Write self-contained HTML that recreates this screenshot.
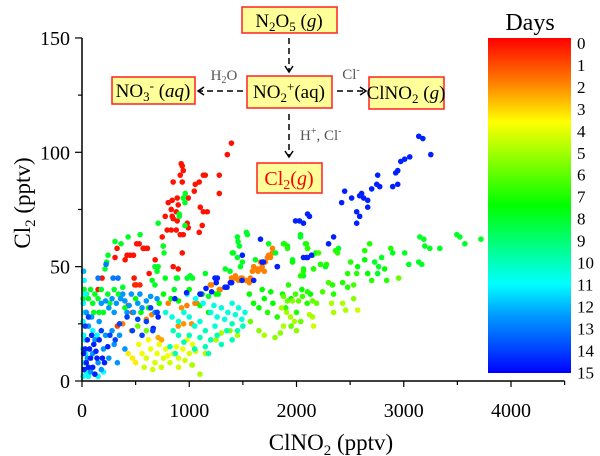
<!DOCTYPE html>
<html><head><meta charset="utf-8"><style>
html,body{margin:0;padding:0;background:#fff;}
svg{display:block;font-family:"Liberation Serif",serif;}
</style></head><body>
<svg id="chart" width="600" height="456" viewBox="0 0 600 456" xmlns="http://www.w3.org/2000/svg">
<defs>
<linearGradient id="cbgrad" x1="0" y1="0" x2="0" y2="1">
<stop offset="0" stop-color="#ff0000"/><stop offset="0.133" stop-color="#ff7f00"/><stop offset="0.25" stop-color="#ffff00"/><stop offset="0.5" stop-color="#00ff00"/><stop offset="0.733" stop-color="#00ffff"/><stop offset="0.833" stop-color="#0096ff"/><stop offset="0.933" stop-color="#0040ff"/><stop offset="1" stop-color="#0000ff"/>
</linearGradient>
</defs>
<g id="points"></g>
<g id="axes"></g>
<rect x="488" y="38" width="83" height="335" fill="url(#cbgrad)"/>
<text x="530" y="30" font-size="24" text-anchor="middle">Days</text>
<g id="cblabels"></g>
<text transform="translate(30,203) rotate(-90)" font-size="23" text-anchor="middle">Cl<tspan font-size="15" dy="5">2</tspan><tspan dy="-5"> (pptv)</tspan></text>
<text x="331" y="450" font-size="23" text-anchor="middle">ClNO<tspan font-size="15" dy="5">2</tspan><tspan dy="-5"> (pptv)</tspan></text>
<g font-size="19">
<rect x="242" y="7" width="95" height="26" fill="#ffff99" stroke="#ff2020" stroke-width="1.5"/>
<text x="289" y="27" text-anchor="middle">N<tspan font-size="13" dy="4">2</tspan><tspan dy="-4">O</tspan><tspan font-size="13" dy="4">5</tspan><tspan dy="-4"> (</tspan><tspan font-style="italic">g</tspan>)</text>
<line x1="289" y1="38" x2="289" y2="71" stroke="#000" stroke-width="1.5" stroke-dasharray="6,4"/>
<polyline points="285,66 289,72 293,66" fill="none" stroke="#000" stroke-width="1.5"/>
<rect x="247" y="76" width="85" height="32" fill="#ffff99" stroke="#ff2020" stroke-width="1.5"/>
<text x="289" y="98" text-anchor="middle">NO<tspan font-size="13" dy="4">2</tspan><tspan font-size="13" dy="-11">+</tspan><tspan dy="7">(aq)</tspan></text>
<rect x="112" y="77" width="83" height="27" fill="#ffff99" stroke="#ff2020" stroke-width="1.5"/>
<text x="153" y="97" text-anchor="middle">NO<tspan font-size="13" dy="4">3</tspan><tspan font-size="13" dy="-11">-</tspan><tspan dy="7"> (</tspan><tspan font-style="italic">aq</tspan>)</text>
<rect x="369" y="77" width="75" height="32" fill="#ffff99" stroke="#ff2020" stroke-width="1.5"/>
<text x="406" y="99" text-anchor="middle">ClNO<tspan font-size="13" dy="4">2</tspan><tspan dy="-4"> (</tspan><tspan font-style="italic">g</tspan>)</text>
<line x1="243" y1="91" x2="199" y2="91" stroke="#000" stroke-width="1.5" stroke-dasharray="6,4"/>
<polyline points="204,87 198,91 204,95" fill="none" stroke="#000" stroke-width="1.5"/>
<line x1="337" y1="91" x2="365" y2="91" stroke="#000" stroke-width="1.5" stroke-dasharray="6,4"/>
<polyline points="360,87 366,91 360,95" fill="none" stroke="#000" stroke-width="1.5"/>
<text x="224" y="80" font-size="15" fill="#555" text-anchor="middle">H<tspan font-size="10" dy="3">2</tspan><tspan dy="-3">O</tspan></text>
<text x="351" y="79" font-size="15" fill="#555" text-anchor="middle">Cl<tspan font-size="10" dy="-6">-</tspan></text>
<line x1="289" y1="114" x2="289" y2="156" stroke="#000" stroke-width="1.5" stroke-dasharray="6,4"/>
<polyline points="285,151 289,157 293,151" fill="none" stroke="#000" stroke-width="1.5"/>
<text x="300" y="140" font-size="15" fill="#555">H<tspan font-size="10" dy="-6">+</tspan><tspan dy="6">, Cl</tspan><tspan font-size="10" dy="-6">-</tspan></text>
<rect x="257" y="163" width="65" height="30" fill="#ffff99" stroke="#ff2020" stroke-width="1.5"/>
<text x="289" y="185" text-anchor="middle" fill="#ff0000" font-size="20">Cl<tspan font-size="14" dy="4">2</tspan><tspan dy="-4">(</tspan><tspan font-style="italic">g</tspan>)</text>
</g>
</svg>
<script>
// data arrays: [ClNO2, Cl2, day]
const redPts=[[1393,104,0.2],[1355,99,0.2],[925,95,0.3],[935,94,0.3],[944,92,0.3],[916,90,0.3],[1150,90,0.3],[1131,90,0.3],[1280,90,0.3],[850,87,0.3],[935,87,0.3],[1056,86,0.3],[1093,87,0.3],[1047,83,0.3],[1280,82,0.3],[991,80,0.3],[888,80,0.3],[841,79,0.3],[804,78,0.3],[897,77,0.3],[832,75,0.3],[879,74,0.3],[1103,76,0.3],[1131,74,0.3],[1168,74,0.3],[776,72,0.3],[841,72,0.3],[850,71,0.3],[888,70,0.3],[981,69,0.3],[991,67,0.3],[1121,68,0.3],[794,66,0.3],[832,66,0.3],[879,66,0.3],[1093,65,0.3],[916,64,0.3],[944,64,0.3],[748,63,0.3],[570,58,0.3],[607,58,0.3],[757,59,0.3],[682,53,0.3],[935,56,0.3],[850,50,0.3],[897,49,0.3],[327,58,0.3],[308,54,0.3],[402,53,0.3],[420,55,0.3],[449,55,0.3],[480,55,0.3],[579,58,0.3],[610,58,0.3],[486,45,0.3],[505,42,0.3],[150,40,0.3],[187,45,0.3],[626,47,0.3],[533,60,0.3],[510,60,0.3],[540,42,0.6],[492,42,0.6],[430,33,0.8],[470,30,0.8],[700,30,1],[330,24,1]];
const orangePts=[[1196,42,2],[1280,40,2],[1430,45,2],[1460,44,2],[1495,45,2],[1530,44,2],[1560,43,2],[1589,48,2],[1636,49,2],[1670,49,2],[1710,52,2],[1757,54,2],[1776,56,2],[1680,50,2],[1776,58,2],[1740,55,2],[1729,54,2],[1664,52,2],[1600,50,2],[1640,48,2],[1570,45,2],[1480,45,2],[1393,45,2],[1430,46,2],[1700,48,2],[804,34,2],[928,32,2.2],[1053,34,2],[1209,42,2],[461,22,2.5],[710,19,2.5],[742,18,2.5],[897,24,2.2],[1022,25,2.2],[947,25,2.2],[978,33,2],[1072,34,2],[1290,40,2],[600,27,2],[650,29,2],[380,25,2]];
const yellowPts=[[530,16,4],[560,12,4],[600,10,4.3],[640,14,4],[680,8,4.3],[700,12,4],[720,16,4],[760,10,4.3],[780,14,4],[820,8,4.5],[850,12,4],[880,15,4],[900,10,4.3],[940,14,4],[960,9,4.5],[1000,12,4.3],[1030,16,4],[1060,13,4.5],[980,18,4],[620,18,3.7],[580,6,4.5],[660,5,4.5],[740,6,4.5],[800,11,4],[470,10,3.5],[500,8,3.5],[430,12,3.5],[900,6,4.5],[1100,3,5],[1150,12,5],[1030,7,5],[1025,7,5]];
const yellowGreenPts=[[1570,26,6],[1650,22,5.5],[1700,20,5],[1800,19,5.5],[1850,21,5.5],[1950,24,6],[2000,22,5.5],[2040,26,6],[1450,20,5],[1380,22,5.5],[1300,21,5],[1250,18,5],[600,22,6],[520,24,6]];
const tealPts=[[780,30,10.5],[840,28,10.5],[900,26,10.5],[950,30,10.5],[1000,28,10.5],[1050,24,10.5],[1100,26,10.5],[1150,22,10],[1200,30,10.5],[1230,33,10.5],[1260,28,10.5],[1300,32,10.5],[1330,27,10.5],[1360,30,10.5],[1400,25,10],[1430,29,10.5],[1460,32,10.5],[1490,27,10.5],[1520,30,10.5],[1260,20,10],[1300,16,10],[1350,22,10],[1200,18,10],[1150,15,10],[1100,19,10],[1000,20,10],[950,17,10],[1050,14,10],[900,20,10],[850,22,10],[1450,22,10],[1400,18,10],[1500,24,10],[820,15,10],[870,12,10],[1180,12,10],[1240,24,10.5],[1130,34,11],[1060,36,11],[980,38,11],[1400,34,10.5]];
const lightBluePts=[[280,36,12.5],[320,34,12.5],[360,36,12.5],[400,35,12.5],[440,33,12.5],[480,30,12.5],[520,34,12.5],[560,32,12.5],[600,35,12.5],[640,37,12.5],[680,30,12.5],[700,36,12.5],[380,38,12.5],[420,30,12.5],[300,30,12.5],[250,32,12.5],[220,35,12.5],[180,34,12.5],[460,38,12.5],[540,38,12.5],[15,48,12],[50,10,12.5],[100,12,12.5],[150,8,12.5],[200,14,12.5],[250,10,12.5],[120,18,12.5],[180,5,12.5],[80,4,12.5],[220,20,12.5],[300,16,12.5],[350,20,12.5],[400,14,12.5],[60,24,12.5],[160,26,12.5],[280,22,12.5],[330,8,12.5],[40,30,12.5],[90,28,12.5]];
const cyanPts=[[10,2,11],[20,8,11],[10,14,11],[15,20,11],[10,26,11],[25,30,11],[12,34,11],[30,38,11],[20,44,11],[40,4,11],[60,2,11],[30,18,11],[150,2,11],[200,4,11],[100,22,11],[140,20,11],[35,12,11]];
const greenPts=[[963,82,8],[944,80,8],[960,78,8],[907,72,8],[542,64,8],[710,50,8],[700,48,8],[776,45,8],[880,45,8],[981,45,8],[1030,45,8],[1150,47,8],[1336,49,8],[1380,48,8],[1449,63,8],[1455,61,8],[1533,65,8],[1467,59,8],[1411,56,8],[1449,54,8],[1495,52,8],[1477,50,8],[1617,53,8],[1740,60,8],[1804,56,8],[1879,60,8],[1916,59,8],[2037,64,8],[2084,60,8],[2103,58,8],[1963,53,8],[2180,56,8],[2224,51,8],[2271,50,8],[2159,49,8],[2065,49,8],[2065,46,8],[308,61,8],[364,60,8],[430,63,8],[243,55,8],[215,49,8],[230,52,8],[680,50,8],[757,59,8],[765,56,8],[710,69,8],[907,73,8],[960,68,8],[1009,46,8],[890,45,8],[654,44,8],[680,42,8],[860,40,8],[1121,38,8],[1180,37,8],[1271,38,8],[1402,56,8],[1542,64,8],[20,40,8],[40,38,8],[60,36,8],[80,40,8],[100,34,8],[120,38,8],[150,36,8],[180,40,8],[200,30,8],[240,38,8],[260,34,8],[300,40,8],[340,38,8],[380,41,8],[30,30,8],[70,28,8],[110,30,8],[10,36,8],[400,32,8],[160,30,8],[500,36,7.5],[550,30,7.5],[620,32,7.5],[720,34,7.5],[760,38,7.5],[830,36,7.5],[900,35,7.5],[1000,40,7.5],[1100,33,7.5],[1180,30,7.5],[1250,38,7.5],[1560,38,7.5],[1600,34,7.5],[1650,32,7.5],[1700,36,7.5],[1730,30,7],[1780,34,7.5],[1820,28,7],[1870,38,7.5],[1900,32,7],[1950,36,7.5],[2000,30,7],[2050,40,7.5],[2100,34,7],[2130,38,7.5],[1680,40,7.5],[1760,39,7.5]];
const rightPts=[[3150,63,8],[3187,62,8],[3196,59,8],[3243,58,8],[3336,58,8],[3495,64,8],[3523,63,8],[3570,60,8],[3720,62,8],[3009,56,8],[3047,51,8],[3140,52,8],[3168,51,8],[2953,45,6],[2879,58,7],[2897,56,8],[2794,54,8],[2729,52,8],[2766,50,8],[2822,49,7.5],[2757,47,8],[2841,44,7],[2701,44,7],[2664,47,7.5],[2636,53,7.5],[2682,60,7],[2636,57,7],[2570,50,7.5],[2561,47,7],[2477,47,7],[2505,52,7],[2430,43,7],[2477,41,7],[2533,42,6.5],[2364,57,7],[2392,58,8],[2383,56,7],[2336,42,7],[2346,38,7],[2299,43,6.5],[2243,39,6.5],[2224,51,7],[2280,51,7],[2159,49,7],[2206,56,6.5],[2150,55,7],[2093,60,7],[2103,58,7],[2037,63,8],[1888,60,7],[1916,58,7],[1963,52,7.5],[2065,48,7],[2037,46,7],[1925,42,7],[1991,38,6.5],[2103,39,7],[2056,37,6.5],[1879,37,6],[1963,35,5.5],[1916,35,6],[1860,32,5],[1907,30,5],[2019,35,6],[2150,35,6],[2187,34,6],[2327,34,5],[2430,34,5],[2533,36,5.5],[2346,30,5],[2458,31,5],[2570,31,4.5],[2121,29,5],[2150,28,5],[2159,24,4.5],[1981,26,5],[1879,24,5],[1944,28,5]];
const darkBluePts=[[3140,107,14.5],[3178,106,14.5],[3252,99,14.5],[3056,98,14.5],[3009,97,14.5],[2972,96,14.5],[2944,92,14.5],[2925,91,14.5],[2757,90,14.5],[2748,86,14.5],[2776,85,14.5],[2701,84,14.5],[2944,86,14.5],[2897,85,14.5],[2607,82,14.5],[2589,81,14.5],[2626,80,14.5],[2449,83,14.5],[2514,80,14.5],[2421,78,14.5],[2664,79,14.5],[2664,76,14.5],[2561,74,14.5],[2589,72,14.5],[2561,69,14.5],[2103,73,14.5],[2121,72,14.5],[1991,70,14.5],[2028,70,14.5],[2065,69,14.5],[2346,63,14.5],[2299,60,14.5],[2065,54,14.5],[2103,54,14.5],[2140,55,14.5],[1664,62,14.5],[2093,54,14.5],[1822,50,14.5],[1692,52,14.5],[1495,55,14.5],[1262,45,14.5],[866,36,14.5],[975,38.6,14.5],[1100,38,14.5],[1209,39,14.5],[1240,45,14.5],[1333,41,14.5],[1396,43,14.5],[710,28,14.5],[664,23,14.5],[1109,38,14.5],[1156,40.5,14.5],[1252,43,14.5],[1352,41,14.5],[1383,43,14.5],[1492,44,14.5],[1601,44,14.5],[1679,52,14.5],[1820,50,14.5],[224,51,13],[150,45,13],[290,45,13],[336,45,13],[20,5,14.5],[40,8,14.5],[60,6,14.5],[80,10,14.5],[100,6,14.5],[120,3,14.5],[140,10,14.5],[30,14,14.5],[50,18,14.5],[70,14,14.5],[90,20,14.5],[110,16,14.5],[130,13,14.5],[160,18,14.5],[190,10,14.5],[210,8,14.5],[240,15,14.5],[30,24,14],[60,28,14],[15,12,14.5],[180,22,14],[260,20,14],[310,18,14],[350,25,14],[420,28,14],[470,22,14],[560,20,14],[600,26,14],[640,32,14],[700,30,14],[660,22,14],[520,27,14]];
const xTicks=[0,1000,2000,3000,4000];
const yTicks=[0,50,100,150];
const dayLabels=[0,1,2,3,4,5,6,7,8,9,10,11,12,13,14,15];

const NS='http://www.w3.org/2000/svg';
const X0=82,XS=0.10725,Y0=381,YS=2.287;
const xPx=v=>X0+v*XS, yPx=v=>Y0-v*YS;
const stops=[[0,[255,0,0]],[2,[255,127,0]],[3.75,[255,255,0]],[7.5,[0,255,0]],[11,[0,255,255]],[12.5,[0,150,255]],[14,[0,64,255]],[15,[0,0,255]]];
function col(d){for(let i=0;i<stops.length-1;i++){const a=stops[i],b=stops[i+1];if(d<=b[0]){const t=(d-a[0])/(b[0]-a[0]);const c=a[1].map((v,k)=>Math.round(v+(b[1][k]-v)*t));return 'rgb('+c.join(',')+')';}}return 'rgb(0,0,255)';}
function mk(tag,attrs,parent){const e=document.createElementNS(NS,tag);for(const k in attrs)e.setAttribute(k,attrs[k]);parent.appendChild(e);return e;}
const pg=document.getElementById('points');
const groups=[['red',redPts],['orange',orangePts],['yellow',yellowPts],['yellow-green',yellowGreenPts],['green',greenPts],['right-cluster',rightPts],['teal',tealPts],['cyan',cyanPts],['light-blue',lightBluePts],['dark-blue',darkBluePts]];
groups.forEach(([name,arr])=>{arr.forEach(p=>{
 const c=mk('circle',{cx:xPx(p[0]),cy:yPx(p[1]),r:2.8,fill:col(p[2])},pg);
 
 
});});
const ax=document.getElementById('axes');
const xl=mk('line',{x1:X0,y1:Y0,x2:xPx(4500),y2:Y0,stroke:'#000','stroke-width':1.5},ax);


const yl=mk('line',{x1:X0,y1:Y0,x2:X0,y2:yPx(150),stroke:'#000','stroke-width':1.5},ax);


for(let v=0;v<=4500;v+=500){mk('line',{x1:xPx(v),y1:Y0,x2:xPx(v),y2:Y0+(v%1000===0?6:4),stroke:'#000','stroke-width':1.2},ax);}
for(let v=0;v<=150;v+=25){mk('line',{x1:X0,y1:yPx(v),x2:X0-(v%50===0?7:4),y2:yPx(v),stroke:'#000','stroke-width':1.2},ax);}
xTicks.forEach(v=>{const t=mk('text',{x:xPx(v),y:417,'font-size':20,'text-anchor':'middle'},ax);t.textContent=v;
 
 });
yTicks.forEach(v=>{const t=mk('text',{x:70,y:yPx(v)+7,'font-size':20,'text-anchor':'end'},ax);t.textContent=v;
 
 });
const cbl=document.getElementById('cblabels');
dayLabels.forEach((d,i)=>{const t=mk('text',{x:577,y:43+i*21.95+6,'font-size':17},cbl);t.textContent=d;
 
 });
</script>
</body></html>
